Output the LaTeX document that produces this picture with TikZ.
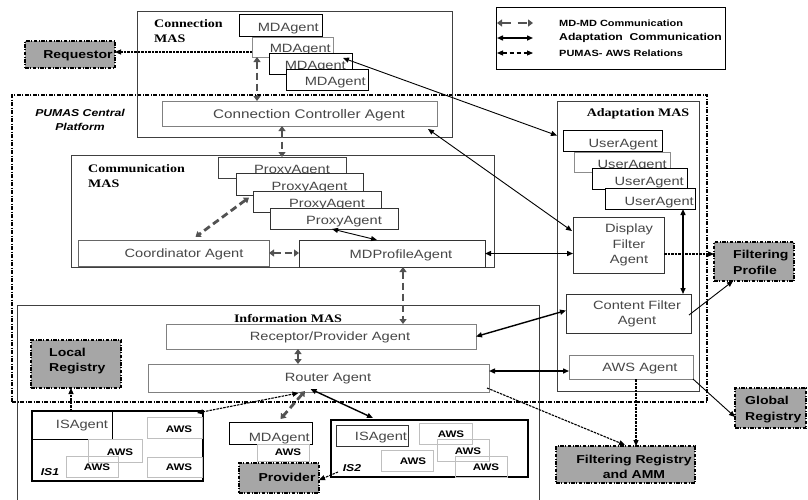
\documentclass[tikz,border=0pt]{standalone}
\usepackage{fontspec}
\setmainfont{Liberation Sans}[FakeStretch=1.22]
\newfontfamily\serifttl{Liberation Serif}[FakeStretch=1.22]
\usetikzlibrary{arrows.meta,fit,calc}
\newcommand\mkbox[4][]{\node[#1, fit={#3 #4}] (#2) {};}
\tikzset{
  bx/.style={draw=#1, fill=white, rectangle, inner sep=0pt, outer sep=0pt, line width=0.8pt},
  bx/.default=black,
  frm/.style={draw=black!75, rectangle, inner sep=0pt, outer sep=0pt, line width=0.8pt},
  platf/.style={draw=black, rectangle, inner sep=0pt, outer sep=0pt, line width=1.2pt, dash pattern=on 4pt off 1.5pt on 1pt off 1.5pt},
  ext/.style={draw=black, fill=black!35, rectangle, inner sep=0pt, outer sep=0pt, line width=1.1pt, dash pattern=on 3.5pt off 1.5pt on 1pt off 1.5pt},
  awsb/.style={draw=black!25, rectangle, inner sep=0pt, outer sep=0pt, line width=0.8pt},
  isbox/.style={draw=black, rectangle, inner sep=0pt, outer sep=0pt, line width=1.5pt},
  agt/.style={inner sep=0pt, text=black!72, font=\fontsize{12}{15.5}\selectfont},
  bt/.style={inner sep=0pt, align=left, font=\bfseries\fontsize{11.5}{15.5}\selectfont},
  awst/.style={inner sep=0pt, font=\bfseries\fontsize{9.5}{11}\selectfont},
  ttl/.style={inner sep=0pt, align=left, font=\serifttl\bfseries\fontsize{11.5}{15}\selectfont},
  ist/.style={inner sep=0pt, font=\bfseries\itshape\fontsize{10}{14}\selectfont},
  lgt/.style={inner sep=0pt, anchor=west, font=\bfseries\fontsize{9}{11}\selectfont},
  md/.style={draw=black!68, line width=2.8pt, dash pattern=on 7pt off 4pt, {Triangle[length=5pt,width=7pt]}-{Triangle[length=5pt,width=7pt]}},
  adp/.style={draw=black, line width=1.4pt, {Triangle[length=6pt,width=5pt]}-{Triangle[length=6pt,width=5pt]}},
  adpthin/.style={draw=black, line width=0.9pt, {Triangle[length=6pt,width=5pt]}-{Triangle[length=6pt,width=5pt]}},
  adpone/.style={draw=black, line width=0.9pt, -{Triangle[length=6pt,width=5pt]}},
  pum/.style={draw=black, line width=1.1pt, dash pattern=on 2.5pt off 1pt, -{Triangle[length=6pt,width=5pt]}},
  pumtwo/.style={draw=black, line width=1.1pt, dash pattern=on 2.5pt off 1pt, {Triangle[length=6pt,width=5pt]}-{Triangle[length=6pt,width=5pt]}},
}
\begin{document}
\begin{tikzpicture}[x=1pt,y=-1pt]
\useasboundingbox (0,0) rectangle (808,499);
\clip (0,0) rectangle (808,499);

% ---------- frames ----------
\mkbox[platf]{plat}{(12,95)}{(707,402)}
\mkbox[frm]{conn}{(137,11)}{(452,137)}
\mkbox[frm]{comm}{(71,155)}{(494,267)}
\mkbox[frm]{adapt}{(557,101)}{(699,391)}
\mkbox[frm]{info}{(17,305)}{(539,512)}
\mkbox[frm, draw=black]{legend}{(496,7)}{(725,69)}

\node[ttl, anchor=west] (connT) at (154,31.5) {Connection\\MAS};
\node[ttl, anchor=west] (commT) at (88,176.5) {Communication\\MAS};
\node[ttl] (infoT) at (288,318) {Information MAS};
\node[ttl] (adaptT) at (638,114) {Adaptation MAS};
\node[ist, align=center] (platT) at (80,120) {PUMAS Central\\Platform};

% ---------- Connection MAS ----------
\mkbox[bx]{md1}{(239,14)}{(322,36)}
\node[agt, anchor=base east] (md1t) at ($(md1.south east)+(-3,-4.5)$) {MDAgent};
\mkbox[bx=black!45]{md2}{(252,37)}{(333,57)}
\node[agt, anchor=base east] (md2t) at ($(md2.south east)+(-2,-4.5)$) {MDAgent};
\mkbox[bx]{md3}{(269,53)}{(352,74)}
\node[agt, anchor=base east] (md3t) at ($(md3.south east)+(-6,-4.5)$) {MDAgent};
\mkbox[bx]{md4}{(286,69)}{(368,90)}
\node[agt, anchor=base east] (md4t) at ($(md4.south east)+(-2,-4.5)$) {MDAgent};

\mkbox[bx=black!50]{cc}{(162,101)}{(437,126)}
\node[agt, anchor=base, font=\fontsize{12.5}{15}\selectfont] (cct) at (309,118) {Connection Controller Agent};

% ---------- Communication MAS ----------
\mkbox[bx=black!75]{px1}{(218,157)}{(346,178)}
\node[agt, anchor=base] (px1t) at (292,173) {ProxyAgent};
\mkbox[bx=black!80]{px2}{(236,173)}{(363,195)}
\node[agt, anchor=base] (px2t) at (309.5,190) {ProxyAgent};
\mkbox[bx=black!80]{px3}{(253,191)}{(381,212)}
\node[agt, anchor=base] (px3t) at (327,207) {ProxyAgent};
\mkbox[bx=black!80]{px4}{(270,208)}{(398,229)}
\node[agt, anchor=base] (px4t) at (344,224) {ProxyAgent};

\mkbox[bx=black!60]{coord}{(78,240)}{(269,266)}
\node[agt, anchor=base] (coordt) at (184,257) {Coordinator Agent};
\mkbox[bx=black!80]{mdprof}{(299,240)}{(485,267)}
\node[agt, anchor=base] (mdproft) at (401,258) {MDProfileAgent};

% ---------- Adaptation MAS ----------
\mkbox[bx]{ua1}{(563,130)}{(662,151)}
\node[agt, anchor=base east] (ua1t) at (658,147) {UserAgent};
\mkbox[bx=black!45]{ua2}{(574,152)}{(670,172)}
\node[agt, anchor=base east] (ua2t) at (667,168) {UserAgent};
\mkbox[bx]{ua3}{(592,168)}{(687,189)}
\node[agt, anchor=base east] (ua3t) at (684,185) {UserAgent};
\mkbox[bx]{ua4}{(605,188)}{(695,209)}
\node[agt, anchor=base east] (ua4t) at (694,205) {UserAgent};

\mkbox[bx=black!80]{disp}{(573,217)}{(664,273)}
\node[agt, align=center] (dispt) at (629,245) {Display\\Filter\\Agent};
\mkbox[bx=black!80]{cfil}{(566,294)}{(691,333)}
\node[agt, align=center, font=\fontsize{12}{15}\selectfont] (cfilt) at (637,313.5) {Content Filter\\Agent};
\mkbox[bx=black!50]{awsag}{(569,355)}{(693,379)}
\node[agt, anchor=base] (awsagt) at (640,371) {AWS Agent};

% ---------- Information MAS ----------
\mkbox[bx=black!50]{recep}{(166,324)}{(476,349)}
\node[agt, anchor=base] (recept) at (330,340) {Receptor/Provider Agent};
\mkbox[bx=black!50]{router}{(148,364)}{(489,392)}
\node[agt, anchor=base] (routert) at (328,381) {Router Agent};

% ---------- external boxes ----------
\mkbox[ext]{req}{(25,41)}{(115,68)}
\node[bt, anchor=base] (reqt) at (78,58) {Requestor};
\mkbox[ext]{lreg}{(31,340)}{(121,388)}
\node[bt, anchor=west] (lregt) at (49,361) {Local\\Registry};
\mkbox[ext]{fprof}{(714,242)}{(794,281)}
\node[bt, anchor=west] (fproft) at (733,262.5) {Filtering\\Profile};
\mkbox[ext]{greg}{(735,388)}{(806,428)}
\node[bt, anchor=west] (gregt) at (745,409.5) {Global\\Registry};
\mkbox[ext]{freg}{(556,446)}{(695,483)}
\node[bt, align=center, font=\bfseries\fontsize{11.5}{14.5}\selectfont] (fregt) at (634,467) {Filtering Registry\\and AMM};
\mkbox[ext]{prov}{(239,463)}{(319,493)}
\node[bt, anchor=base] (provt) at (287,481) {Provider};

% ---------- IS1 ----------
\mkbox[isbox]{is1}{(32,411)}{(203,481)}
\mkbox[bx]{isag1}{(32,411)}{(112,439)}
\node[agt, anchor=base] (isag1t) at (82,428) {ISAgent};
\mkbox[awsb]{a1}{(147,417)}{(202,438)}
\node[awst, anchor=base] (a1t) at (179,432) {AWS};
\mkbox[awsb]{a2}{(88,439)}{(142,462)}
\node[awst, anchor=base] (a2t) at (120,455) {AWS};
\mkbox[awsb]{a3}{(66,456)}{(118,477)}
\node[awst, anchor=base] (a3t) at (97,470) {AWS};
\mkbox[awsb]{a4}{(147,457)}{(202,477)}
\node[awst, anchor=base] (a4t) at (179,470) {AWS};
\node[ist, anchor=base] (is1t) at (50,475) {IS1};

% ---------- mobile device ----------
\mkbox[bx]{md5}{(229,422)}{(312,444)}
\node[agt, anchor=base east] (md5t) at (310,441) {MDAgent};
\mkbox[awsb, fill=white]{a5}{(257,444)}{(309,461)}
\node[awst, anchor=base] (a5t) at (288,455.5) {AWS};

% ---------- IS2 ----------
\mkbox[isbox]{is2}{(331,420)}{(528,477)}
\mkbox[bx=black!80]{isag2}{(336,425)}{(408,446)}
\node[agt, anchor=base] (isag2t) at (381,440) {ISAgent};
\mkbox[awsb]{b1}{(419,423)}{(472,444)}
\node[awst, anchor=base] (b1t) at (451,437) {AWS};
\mkbox[awsb]{b2}{(437,439)}{(489,461)}
\node[awst, anchor=base] (b2t) at (468,454) {AWS};
\mkbox[awsb]{b3}{(455,456)}{(507,477)}
\node[awst, anchor=base] (b3t) at (486,470) {AWS};
\mkbox[awsb]{b4}{(381,450)}{(433,471)}
\node[awst, anchor=base] (b4t) at (413,464) {AWS};
\node[ist, anchor=base] (is2t) at (352,471) {IS2};

% ---------- legend ----------
\coordinate (l1a) at (497,23); \coordinate (l1b) at (533,23);
\coordinate (l2a) at (497,38); \coordinate (l2b) at (533,38);
\coordinate (l3a) at (497,53); \coordinate (l3b) at (533,53);
\draw[md, line width=2pt, dash pattern=on 9pt off 7pt] (l1a) -- (l1b);
\draw[adp] (l2a) -- (l2b);
\draw[pumtwo, dash pattern=on 4pt off 3pt] (l3a) -- (l3b);
\node[lgt] (lg1) at (559,23) {MD-MD Communication};
\node[lgt, font=\bfseries\fontsize{10}{12}\selectfont] (lg2) at (559,38) {Adaptation\ \ Communication};
\node[lgt] (lg3) at (559,53) {PUMAS- AWS Relations};

% ---------- MD-MD communication ----------
\draw[md] ([xshift=5pt]md2.south west) -- ([xshift=5pt]md2.south west |- cc.north);
\draw[md] (cc.south -| px1.north) -- (px1.north);
\draw[md] ($(px3.west)+(-4,-4)$) -- ($(coord.north)+(22,-3)$);
\draw[md] (coord.east) -- (coord.east -| mdprof.west);
\draw[md] ([xshift=11pt]mdprof.south) -- ([xshift=11pt]mdprof.south |- recep.north);
\draw[md] ([xshift=-23pt]recep.south) -- ([xshift=-23pt]recep.south |- router.north);
\draw[md] ($(router.south)+(-13.5,-1)$) -- ($(md5.north)+(10,-3)$);

% ---------- adaptation communication ----------
\draw[adpthin] ($(md3.north east)+(-9,5)$) -- ($(ua1.west)+(-6,-5)$);
\draw[adpthin] ($(cc.south east)+(-9,3)$) -- ($(disp.west)+(-1,-14)$);
\draw[adpthin] ($(px4.south)+(-2,0)$) -- ($(mdprof.north)+(-15,0)$);
\draw[adp] (mdprof.east) -- (mdprof.east -| disp.west);
\draw[adp] ([xshift=-12pt]ua4.south east) -- ([xshift=-12pt]ua4.south east |- cfil.north);
\draw[adp] (recep.east) -- ($(cfil.west)+(0,-3)$);
\coordinate (r7) at ($(router.east)+(0,-7)$);
\draw[adp] (r7) -- (r7 -| awsag.west);
\draw[adp] ($(router.south)+(-8,-3)$) -- ($(is2.north west)+(42,-2)$);
\draw[adpone] ($(cfil.east)+(-2,1.5)$) -- ($(fprof.south)+(-21,0)$);
\draw[adpone] (awsag.south east) -- ($(greg.south west)+(0,-11)$);

% ---------- PUMAS - AWS relations ----------
\coordinate (p1) at ($(md2.west)+(0,5)$);
\draw[pum] (p1) -- (p1 -| req.east);
\coordinate (p2) at ($(disp.east)+(0,9)$);
\draw[pum] (p2) -- (p2 -| fprof.west);
\draw[pum] ([xshift=-5pt]lreg.south |- is1.north) -- ([xshift=-5pt]lreg.south);
\draw[pumtwo] ($(is1.north east)+(-6,2)$) -- ($(router.south)+(-20,1)$);
\draw[pum] ($(is2.south west)+(7,-5)$) -- ($(prov.east)+(0,2)$);
\draw[pum] ($(router.south east)+(-2,-4)$) -- ($(freg.north)+(-0.5,-1)$);
\draw[pum] ([xshift=5pt]awsag.south) -- ([xshift=5pt]awsag.south |- freg.north);
\end{tikzpicture}
\end{document}
